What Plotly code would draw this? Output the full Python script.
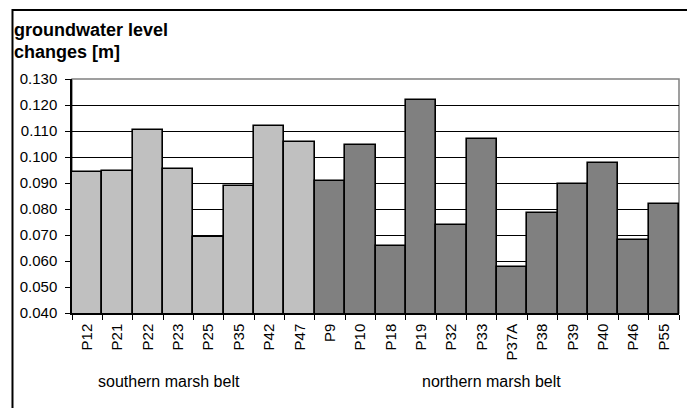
import plotly.graph_objects as go

south_names = ["P12", "P21", "P22", "P23", "P25", "P35", "P42", "P47"]
south_vals = [0.0941, 0.0947, 0.1105, 0.0953, 0.0693, 0.0890, 0.1120, 0.1058]
north_names = ["P9", "P10", "P18", "P19", "P32", "P33", "P37A", "P38", "P39", "P40", "P46", "P55"]
north_vals = [0.0907, 0.1046, 0.0657, 0.1220, 0.0737, 0.1069, 0.0576, 0.0786, 0.0896, 0.0976, 0.0681, 0.0819]
y_ticks = [0.04, 0.05, 0.06, 0.07, 0.08, 0.09, 0.10, 0.11, 0.12, 0.13]

OFF = 8  # page body margin
W, H = 695 - OFF, 408 - OFF
L, R, T, B = 67 - OFF, 16, 79 - OFF, 95
pw, ph = W - L - R, H - T - B

def px(x):  # screen x -> paper
    return (x - OFF - L) / pw

def py(y):  # screen y -> paper
    return (H - B - (y - OFF)) / ph

font = "Liberation Sans, Arial, sans-serif"
fig = go.Figure()
fig.add_bar(x=south_names, y=south_vals, marker=dict(color="#C0C0C0", line=dict(color="black", width=1.6)))
fig.add_bar(x=north_names, y=north_vals, marker=dict(color="#808080", line=dict(color="black", width=1.6)))

fig.update_layout(
    width=W, height=H, margin=dict(l=L, r=R, t=T, b=B),
    paper_bgcolor="white", plot_bgcolor="white",
    barmode="overlay", bargap=0, showlegend=False,
    font=dict(family=font, size=15, color="black"),
    xaxis=dict(type="category", categoryorder="array", categoryarray=south_names + north_names,
               tickson="boundaries", ticks="outside", ticklen=5, tickcolor="black",
               tickangle=-90, showline=True, linecolor="black", linewidth=1.5,
               showgrid=False, tickfont=dict(size=15), ticklabelstandoff=3),
    yaxis=dict(range=[0.04, 0.13], tickvals=y_ticks, tickformat=".3f",
               ticks="outside", ticklen=5, tickcolor="black",
               showline=True, linecolor="black", linewidth=1.5,
               showgrid=True, gridcolor="black", gridwidth=1, zeroline=False,
               tickfont=dict(size=15), ticklabelstandoff=5),
    shapes=[
        dict(type="rect", xref="paper", yref="paper", x0=0, x1=1, y0=0, y1=1,
             line=dict(color="#808080", width=1.5), layer="below"),
        dict(type="rect", xref="paper", yref="paper", x0=px(7), x1=px(720), y0=py(10), y1=py(430),
             line=dict(color="black", width=2)),
    ],
    annotations=[
        dict(text="<b>groundwater level</b>", xref="paper", yref="paper", x=px(7), y=py(30),
             xanchor="left", yanchor="middle", showarrow=False, font=dict(size=18)),
        dict(text="<b>changes [m]</b>", xref="paper", yref="paper", x=px(7), y=py(52),
             xanchor="left", yanchor="middle", showarrow=False, font=dict(size=18)),
        dict(text="southern marsh belt", xref="paper", yref="paper", x=px(165), y=py(381),
             xanchor="center", yanchor="middle", showarrow=False, font=dict(size=16)),
        dict(text="northern marsh belt", xref="paper", yref="paper", x=px(490), y=py(381),
             xanchor="center", yanchor="middle", showarrow=False, font=dict(size=16)),
    ],
)
fig.write_html("out.html")
